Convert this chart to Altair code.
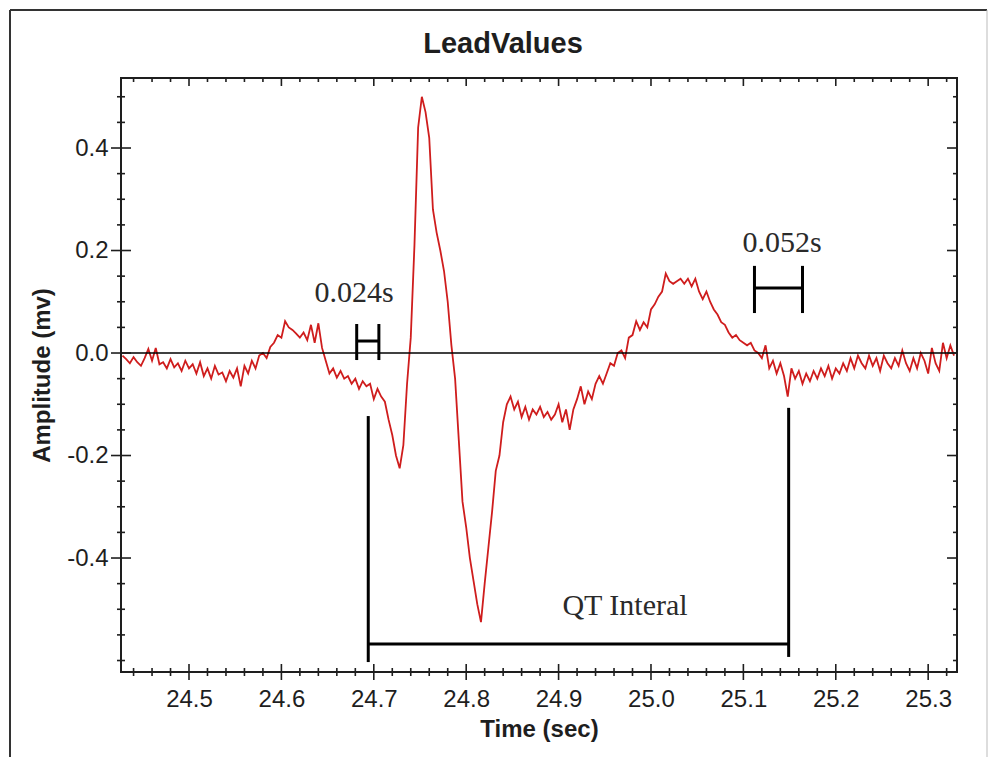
import altair as alt
import pandas as pd

# ---------------------------------------------------------------------------
# ECG lead trace (mV), sampled every 4 ms starting at 24.428 s
# ---------------------------------------------------------------------------
t_start = 24.428
t_step = 0.004

amplitude = [
    # baseline before the P wave
    -0.005, -0.012, -0.020, -0.008, -0.018, -0.025, -0.010, 0.008, -0.015, 0.010,
    -0.022, -0.018, -0.030, -0.012, -0.028, -0.020, -0.035, -0.015, -0.030, -0.022,
    -0.040, -0.018, -0.045, -0.030, -0.050, -0.025, -0.042, -0.038, -0.055, -0.035,
    -0.048, -0.030, -0.065, -0.025, -0.040, -0.015, -0.030, -0.005,
    # P wave
    0.000, -0.010, 0.012, 0.020, 0.035, 0.030, 0.062, 0.050, 0.045, 0.038,
    0.030, 0.040, 0.025, 0.055, 0.020, 0.058, 0.010, -0.015, -0.040,
    # PR segment
    -0.030, -0.048, -0.035, -0.050, -0.045, -0.060, -0.050, -0.070, -0.055, -0.065,
    -0.060, -0.090, -0.070, -0.085,
    # QRS complex
    -0.095, -0.130, -0.160, -0.200, -0.225, -0.180, -0.060, 0.030, 0.210, 0.440,
    0.500, 0.470, 0.420, 0.280, 0.235, 0.200, 0.160, 0.100, 0.015, -0.050,
    -0.170, -0.290, -0.340, -0.400, -0.445, -0.490, -0.525, -0.450, -0.380, -0.310,
    -0.230, -0.200, -0.135, -0.100, -0.085,
    # ST segment, T wave and trailing baseline
    -0.110, -0.095, -0.125, -0.105, -0.130, -0.110, -0.120, -0.105, -0.125, -0.115,
    -0.130, -0.120, -0.100, -0.135, -0.110, -0.150, -0.110, -0.090, -0.065, -0.100,
    -0.075, -0.090, -0.060, -0.045, -0.060, -0.040, -0.020, -0.025, 0.000, 0.005,
    -0.010, 0.030, 0.035, 0.062, 0.045, 0.060, 0.050, 0.085, 0.095, 0.110,
    0.120, 0.155, 0.140, 0.135, 0.140, 0.145, 0.135, 0.145, 0.130, 0.145,
    0.120, 0.105, 0.120, 0.100, 0.085, 0.075, 0.060, 0.055, 0.040, 0.030,
    0.035, 0.025, 0.020, 0.015, 0.020, 0.005, 0.000, -0.010, 0.015, -0.030,
    -0.015, -0.040, -0.020, -0.045, -0.085, -0.030, -0.050, -0.035, -0.060, -0.040,
    -0.055, -0.035, -0.050, -0.030, -0.045, -0.025, -0.050, -0.030, -0.040, -0.020,
    -0.035, -0.010, -0.030, -0.005, -0.020, -0.030, -0.005, -0.025, -0.010, -0.035,
    -0.005, -0.020, -0.030, -0.010, -0.025, 0.005, -0.020, -0.035, -0.010, -0.030,
    0.000, -0.015, -0.040, 0.010, -0.020, -0.035, 0.020, -0.010, 0.015, -0.005,
]
time = [round(t_start + i * t_step, 3) for i in range(len(amplitude))]

# axis tick positions
x_major = [24.5, 24.6, 24.7, 24.8, 24.9, 25.0, 25.1, 25.2, 25.3]
x_minor = [round(24.44 + 0.02 * i, 2) for i in range(45)]
x_minor = [v for v in x_minor if all(abs(v - m) > 1e-6 for m in x_major)]
y_major = [-0.4, -0.2, 0.0, 0.2, 0.4]
y_minor = [round(-0.6 + 0.05 * i, 2) for i in range(23)]
y_minor = [v for v in y_minor if all(abs(v - m) > 1e-6 for m in y_major)]

# interval brackets with their stated widths (s)
bracket_text = ["0.024s", "0.052s"]
bracket_start = [24.6815, 25.112]
bracket_width = [0.024, 0.052]
bracket_level = [0.0234, 0.127]
bracket_top = [0.0566, 0.170]
bracket_bottom = [-0.0137, 0.078]
bracket_label_t = [24.6786, 25.1418]
bracket_label_mv = [0.0995, 0.197]

# QT interval marker
qt_text = "QT Interal"
qt_start, qt_end = 24.694, 25.149
qt_level = -0.568
qt_left_span = [-0.123, -0.603]
qt_right_span = [-0.107, -0.593]
qt_label_t, qt_label_mv = 24.9719, -0.511

chart_title = "LeadValues"

# ---------------------------------------------------------------------------
W, H = 836, 594
SANS = "Liberation Sans, Arial, Helvetica, sans-serif"
SERIF = "Liberation Serif, Times New Roman, serif"
INK = "#1e1e1e"

x_scale = alt.Scale(domain=[24.4264, 25.3312], nice=False, zero=False)
y_scale = alt.Scale(domain=[-0.6224, 0.5366], nice=False, zero=False)

x_axis = alt.Axis(
    values=x_major, format=".1f", ticks=False, domain=False, grid=False,
    labelFont=SANS, labelFontSize=24, labelColor=INK, labelPadding=15,
    title="Time (sec)", titleFont=SANS, titleFontSize=24, titleFontWeight="bold",
    titleColor=INK, titlePadding=6,
)
y_axis = alt.Axis(
    values=y_major, ticks=False, domain=False, grid=False,
    labelExpr="datum.value < 0 ? '-' + format(-datum.value, '.1f') : format(datum.value, '.1f')",
    labelFont=SANS, labelFontSize=24, labelColor=INK, labelPadding=13,
    title="Amplitude (mv)", titleFont=SANS, titleFontSize=24, titleFontWeight="bold",
    titleColor=INK, titlePadding=12,
)

X = alt.X("t:Q", scale=x_scale, axis=x_axis)
Y = alt.Y("mv:Q", scale=y_scale, axis=y_axis)

ecg = pd.DataFrame({"t": time, "mv": amplitude})
one = pd.DataFrame({"k": [0]})

trace = alt.Chart(ecg).mark_line(color="#cf1d1d", strokeWidth=1.8).encode(x=X, y=Y)

zero_line = alt.Chart(pd.DataFrame({"mv": [0.0]})).mark_rule(
    color="black", strokeWidth=1.5
).encode(y=Y, x=alt.value(0), x2=alt.value(W))

# ticks drawn on all four sides of the frame
xmaj = pd.DataFrame({"t": x_major})
xmin = pd.DataFrame({"t": x_minor})
ymaj = pd.DataFrame({"mv": y_major})
ymin = pd.DataFrame({"mv": y_minor})
tick = dict(color=INK, strokeWidth=1.6)
ticks = [
    alt.Chart(xmaj).mark_rule(**tick).encode(x=X, y=alt.value(H - 8), y2=alt.value(H + 8)),
    alt.Chart(xmin).mark_rule(**tick).encode(x=X, y=alt.value(H - 4), y2=alt.value(H + 4)),
    alt.Chart(xmaj).mark_rule(**tick).encode(x=X, y=alt.value(0), y2=alt.value(8)),
    alt.Chart(xmin).mark_rule(**tick).encode(x=X, y=alt.value(0), y2=alt.value(4)),
    alt.Chart(ymaj).mark_rule(**tick).encode(y=Y, x=alt.value(-10), x2=alt.value(10)),
    alt.Chart(ymin).mark_rule(**tick).encode(y=Y, x=alt.value(-4), x2=alt.value(4)),
    alt.Chart(ymaj).mark_rule(**tick).encode(y=Y, x=alt.value(W - 10), x2=alt.value(W)),
    alt.Chart(ymin).mark_rule(**tick).encode(y=Y, x=alt.value(W - 4), x2=alt.value(W)),
]

# interval brackets
br = pd.DataFrame({
    "t": bracket_start,
    "t2": [s + w for s, w in zip(bracket_start, bracket_width)],
    "mv": bracket_level,
    "top": bracket_top,
    "bottom": bracket_bottom,
})
br_left = br.assign(edge=br["t"])
br_right = br.assign(edge=br["t2"])
bar_style = dict(color="black", strokeWidth=3)
brackets = [
    alt.Chart(br).mark_rule(**bar_style).encode(x=X, x2="t2:Q", y=Y),
    alt.Chart(pd.concat([br_left, br_right])).mark_rule(**bar_style).encode(
        x=alt.X("edge:Q", scale=x_scale, axis=x_axis),
        y=alt.Y("top:Q", scale=y_scale, axis=y_axis),
        y2="bottom:Q",
    ),
]

qt = pd.DataFrame({"t": [qt_start], "t2": [qt_end], "mv": [qt_level]})
qt_edges = pd.DataFrame({
    "t": [qt_start, qt_end],
    "top": [qt_left_span[0], qt_right_span[0]],
    "bottom": [qt_left_span[1], qt_right_span[1]],
})
qt_marks = [
    alt.Chart(qt).mark_rule(**bar_style).encode(x=X, x2="t2:Q", y=Y),
    alt.Chart(qt_edges).mark_rule(**bar_style).encode(
        x=X, y=alt.Y("top:Q", scale=y_scale, axis=y_axis), y2="bottom:Q"
    ),
]

labels = pd.DataFrame({
    "t": bracket_label_t + [qt_label_t],
    "mv": bracket_label_mv + [qt_label_mv],
    "txt": bracket_text + [qt_text],
    "size": [30, 30, 30],
})
notes = alt.Chart(labels).mark_text(
    font=SERIF, color="#2a2a2a", baseline="alphabetic", align="center"
).encode(x=X, y=Y, text="txt:N", size=alt.Size("size:Q", scale=None, legend=None))

# chart heading above the plot frame
heading = alt.Chart(pd.DataFrame({"txt": [chart_title]})).mark_text(
    font=SANS, fontSize=29, fontWeight="bold", color=INK,
    baseline="alphabetic", align="center",
).encode(text="txt:N", x=alt.value(W / 2 - 36), y=alt.value(-25))

# outer frame around the figure
frame = [
    alt.Chart(one).mark_rule(color="#333333", strokeWidth=2).encode(
        x=alt.value(-111), y=alt.value(-68), y2=alt.value(H + 90)),
    alt.Chart(one).mark_rule(color="#333333", strokeWidth=2).encode(
        x=alt.value(-111), x2=alt.value(W + 30), y=alt.value(-68)),
    alt.Chart(one).mark_rule(color="#bbbbbb", strokeWidth=1).encode(
        x=alt.value(W + 30), y=alt.value(-68), y2=alt.value(H + 90)),
]

chart = alt.layer(
    trace, zero_line, *ticks, *brackets, *qt_marks, notes, heading, *frame
).properties(
    width=W,
    height=H,
    autosize=alt.AutoSizeParams(type="none"),
    padding={"left": 121, "top": 78, "right": 36, "bottom": 85},
    background="white",
).configure_view(
    stroke=INK, strokeWidth=2
)

chart.save("out.html", embed_options={"renderer": "svg", "actions": False})
